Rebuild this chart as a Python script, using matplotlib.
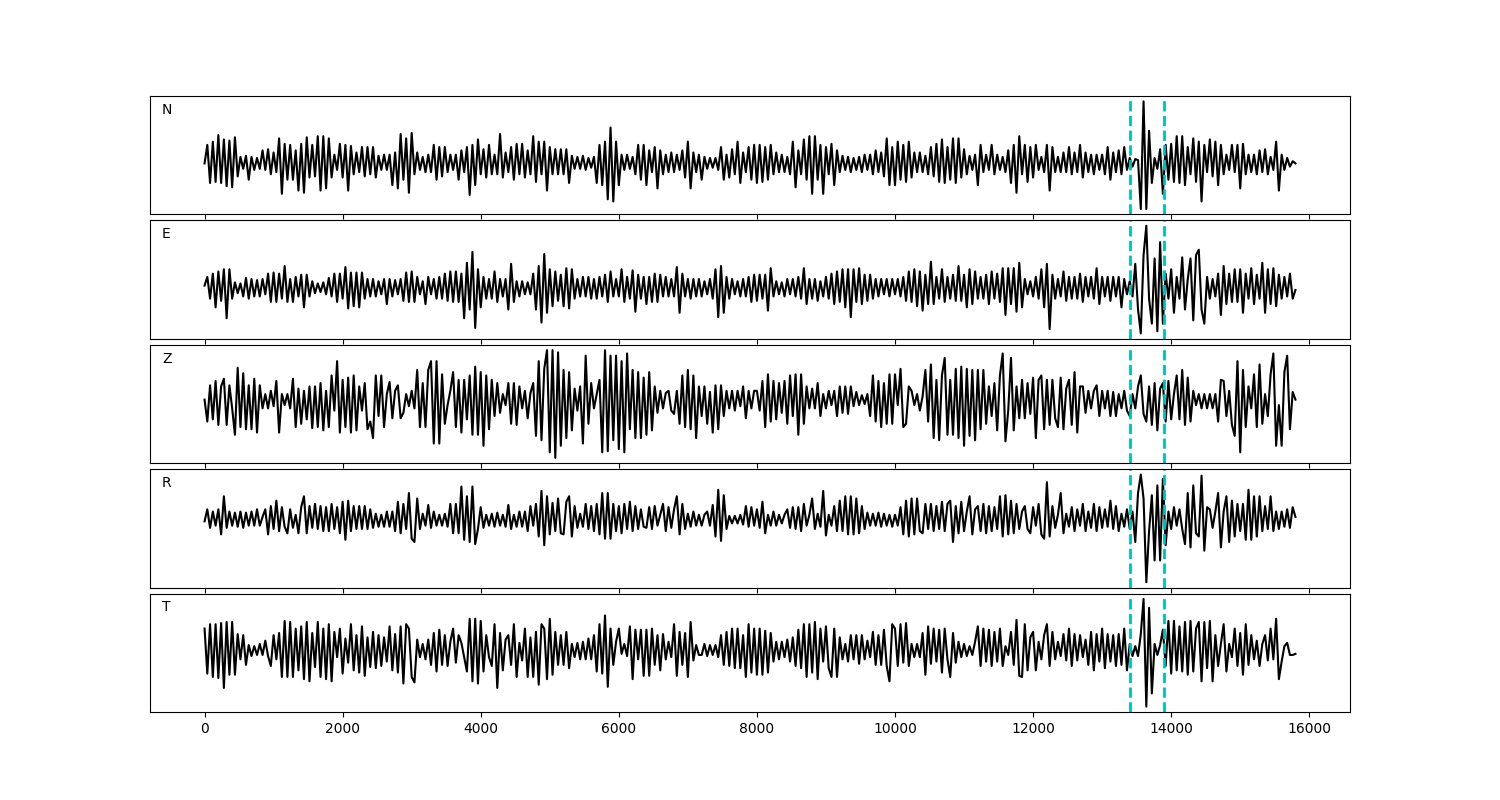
import numpy as np
import matplotlib
matplotlib.use('Agg')
import matplotlib.pyplot as plt

# amplitudes, one value every 40 samples (0..15800)
n_amp = [
    0,17,-18,20,-17,26,-18,22,-21,21, -22,24,-12,6,-5,7,-15,6,-6,5,
    -5,12,-6,13,-10,10,-8,23,-28,18, -15,17,-15,12,-25,18,-27,24,-13,17,
    -12,25,-25,25,-23,23,-13,8,-6,18, -13,17,-25,16,-10,10,-8,15,-12,15,
    -10,15,-13,7,-6,8,-6,8,-20,10, -23,27,-15,23,-27,28,-10,10,-6,6,
    -8,8,-8,17,-15,15,-12,15,-8,8, -6,8,-15,12,-8,15,-29,17,-20,22,
    -10,13,-13,17,-10,8,-10,27,-13,10, -8,15,-15,18,-10,18,-13,12,-10,25,
    -17,20,-10,20,-25,15,-10,13,-10,13, -10,13,-18,7,-5,6,-5,7,-6,5,
    -4,6,-18,17,-20,20,-33,33,-35,20, -20,8,-6,8,-5,6,-10,17,-15,17,
    -20,12,-8,15,-23,12,-10,8,-8,10, -8,8,-6,12,-13,20,-23,10,-8,8,
    -15,6,-5,5,-4,5,-6,15,-15,8, -13,13,-10,20,-18,10,-8,15,-15,17,
    -18,17,-17,15,-15,17,-10,10,-8,8, -8,6,-10,20,-22,12,-10,22,-15,25,
    -28,25,-15,17,-28,15,-10,18,-20,12, -8,7,-6,6,-8,5,-6,6,-8,8,
    -6,8,-10,12,-8,10,-12,23,-20,15, -20,20,-15,17,-17,20,-13,10,-8,10,
    -8,7,-10,15,-12,18,-17,22,-18,15, -15,23,-18,23,-13,13,-10,7,-6,8,
    -20,17,-8,8,-6,17,-10,8,-6,6, -8,12,-18,17,-27,25,-10,17,-17,15,
    -13,17,-6,6,-8,17,-25,15,-8,6, -8,10,-8,15,-10,10,-8,17,-13,10,
    -8,8,-10,8,-6,8,-10,15,-15,10, -8,12,-10,15,-6,5,-3,4,3,-42,
    57,-42,30,-18,5,-5,13,-28,17,-15, 18,-17,25,-18,25,-20,15,-10,23,-17,
    20,-35,17,-8,22,-12,20,-20,17,-10, 8,-6,17,-8,17,-23,18,-10,8,-8,
    8,-10,12,-8,13,-10,6,-6,20,-25, 8,-6,5,-3,2,0]

e_amp = [
    2,10,-10,13,-18,15,-12,17,-28,17, -10,5,-5,4,-8,9,-10,8,-8,7,
    -8,8,-6,13,-13,14,-13,13,-10,20, -13,8,-13,10,-8,12,-18,12,-8,6,
    -5,4,-4,5,-6,9,-8,13,-13,13, -10,19,-19,14,-17,14,-18,14,-10,8,
    -8,8,-8,6,-6,8,-15,8,-8,7, -6,8,-12,14,-13,15,-13,10,-6,6,
    -15,10,-6,8,-10,10,-10,13,-12,15, -13,15,-13,13,-28,23,-20,33,-37,17,
    -18,10,-10,8,-10,15,-13,8,-8,8, -20,22,-13,6,-8,6,-6,5,-6,13,
    -20,20,-32,31,-23,17,-17,15,-12,12, -17,18,-19,17,-10,8,-8,10,-8,10,
    -10,8,-10,10,-8,12,-13,15,-8,8, -8,17,-13,10,-10,16,-22,12,-10,10,
    -15,10,-13,13,-13,12,-8,10,-8,8, -8,19,-23,13,-8,8,-10,8,-8,8,
    -8,6,-6,8,-10,17,-27,20,-23,10, -10,8,-6,6,-8,8,-8,10,-13,12,
    -12,12,-10,12,-21,18,-8,6,-6,5, -8,8,-6,8,-8,10,-10,18,-15,8,
    -10,8,-12,6,-8,10,-10,13,-15,15, -13,17,-18,17,-27,17,-13,18,-15,12,
    -12,12,-10,8,-8,8,-6,8,-8,8, -6,8,-8,10,-12,15,-13,17,-17,15,
    -21,12,-15,24,-15,10,-10,17,-13,10, -10,12,-12,20,-12,12,-18,17,-15,15,
    -10,10,-10,12,-15,15,-10,13,-13,18, -25,18,-15,18,-22,23,-18,8,-6,6,
    -8,10,-10,17,-18,22,-38,12,-10,8, -8,15,-12,10,-10,10,-10,13,-13,10,
    -8,10,-10,18,-15,10,-8,10,-12,10, -8,10,-18,8,-6,6,-8,22,-20,-42,
    30,57,-10,-33,27,-40,42,-33,13,-10, 17,-23,10,-10,28,-20,8,27,-30,30,
    35,-20,-33,10,-10,8,-8,13,-25,20, -15,13,-13,17,-13,17,-23,13,-10,18,
    -15,12,-10,23,-23,17,-15,18,-17,12, -10,10,-8,13,-10,-2]

z_amp = [
    0,-20,13,-18,17,-23,12,19,-23,13, -8,-32,29,-25,24,-27,13,-27,19,-30,
    13,-8,5,-8,8,-6,17,-30,5,-5, 5,-8,19,-25,10,-22,8,-18,12,-26,
    12,-25,15,-28,8,-25,22,-10,35,-30, 18,-25,20,-30,22,-28,12,-10,15,-27,
    -20,-35,22,-15,22,-25,5,16,-17,8, 13,-17,-12,5,-6,8,-8,27,-25,15,
    -25,27,35,-40,35,-40,23,-22,-5,8, 25,-25,18,-30,18,-18,22,-32,30,-32,
    25,-42,22,-27,18,-15,15,-12,5,-5, 15,-22,15,-23,12,-8,8,-17,6,15,
    -33,35,-37,28,45,-48,45,-53,43,-42, 27,-35,25,-28,10,-10,12,-40,40,-22,
    15,-8,5,18,-48,45,-47,40,-37,40, -45,35,-48,42,-27,27,-35,25,-35,20,
    -32,25,-28,12,-12,8,-8,6,8,-10, -13,8,-22,22,-25,27,-27,22,-35,12,
    -15,12,-22,7,-30,13,-27,13,-15,8, -8,8,-10,8,-6,12,-17,8,-8,8,
    8,-10,17,-25,23,-20,17,-18,15,-12, 17,-22,22,-15,23,-32,23,-22,12,-8,
    10,-8,15,-15,5,-8,8,-5,8,-15, 12,-12,12,-13,12,-6,7,-5,4,-4,
    5,-15,22,-20,17,-25,15,-22,23,-22, 23,-5,28,-25,-22,12,8,-5,5,-10,
    3,27,-20,32,-35,18,-37,22,38,-32, 18,-32,28,-35,30,-42,28,-33,27,-37,
    27,-27,27,-22,12,-15,15,-28,22,42, -38,-10,38,-28,12,-17,18,-17,15,-13,
    20,-35,18,22,-27,18,-23,18,-17,-25, 20,-27,10,18,-23,25,-30,12,12,-12,
    8,-8,8,13,-15,8,-8,8,-15,7, -15,5,-8,8,-10,-15,5,-8,12,22,
    -13,-20,12,-23,15,-28,10,15,-20,17, -18,5,22,-18,27,-23,20,-20,8,-5,
    5,-8,5,-8,5,-8,5,-20,18,17, -15,8,-23,-33,35,-48,27,-25,12,-8,
    23,-25,32,-22,5,-15,23,42,-42,-5, -42,25,40,-27,7,0]

r_amp = [
    -1,10,-7,8,-5,10,-13,22,-7,8, -5,7,-6,8,-7,7,-5,8,-5,10,
    -5,3,10,-13,13,-8,18,-10,12,-6, -12,10,-7,5,-12,12,22,-12,13,-7,
    15,-8,13,-10,12,-10,15,-8,12,-12, 17,-18,18,-10,13,-8,13,-8,13,-8,
    10,-7,6,-6,5,-6,8,-6,8,-10, 17,-12,15,-8,25,-17,-20,20,-8,6,
    -5,14,-7,8,-5,5,-5,6,-6,15, -12,15,-12,31,-18,22,-20,31,-22,-8,
    12,-7,5,-5,6,-6,7,-5,5,-6, 14,-8,5,-6,8,-6,8,-10,13,-5,
    15,-15,27,-23,22,-13,16,-10,20,-12, -13,17,22,-15,13,-7,6,-6,15,-8,
    13,-10,15,-13,25,-17,25,-17,15,-10, 13,-12,15,-8,17,-10,13,-8,10,-6,
    -7,12,-8,13,-5,5,15,-10,12,-7, 10,22,-13,15,-8,6,-6,8,-5,5,
    -5,5,8,-5,14,-15,28,-19,23,-8, 4,-3,4,-3,5,-4,13,-6,12,-5,
    10,-7,17,-12,5,-5,8,-5,5,-3, 5,10,-7,12,-8,12,-10,15,-5,5,
    20,-8,6,-6,27,-14,5,-5,13,-10, 18,-10,22,-13,22,-13,20,-12,13,-8,
    7,-5,6,-5,7,-6,6,-5,5,-6, 5,-5,12,-13,18,-15,20,-13,20,-10,
    -12,15,-8,15,-10,13,-8,17,-10,15, 18,-20,13,-12,17,-10,8,22,-13,10,
    13,-10,15,-12,13,-10,12,-8,22,-15, 23,-13,18,-12,15,-8,8,13,-8,-12,
    12,-5,15,-13,-17,35,-15,13,-7,5, 25,-12,6,-6,12,-10,10,-5,15,-10,
    8,-7,15,-10,12,-7,10,-6,18,-8, 13,-10,6,-6,10,-8,8,-20,25,42,
    20,-57,-10,23,-37,32,-37,38,-23,8, -8,12,-5,10,-8,-22,25,-25,32,-12,
    -15,41,-28,12,10,-7,8,25,-25,8, 22,-20,18,-15,15,-10,15,-18,28,-18,
    22,-15,22,-10,13,-8,22,-10,8,-8, 8,-6,10,-7,12,3]

t_amp = [
    20,-21,24,-24,24,-25,25,-34,26,-22, 26,-22,15,-8,14,-13,5,-5,4,-4,
    6,-4,9,-5,-14,14,-8,16,-24,27, -24,26,-24,20,-18,22,-26,26,-28,16,
    -15,26,-24,20,-26,24,-28,17,-6,20, -21,11,-11,24,-18,14,-20,22,-23,12,
    -15,17,-16,14,-14,12,-10,22,-18,15, -20,22,-30,24,20,-24,-29,10,-6,6,
    -8,10,-13,16,-19,19,-13,14,-14,8, 20,-11,14,7,-6,-19,29,-28,29,-30,
    27,-19,14,-6,-14,24,-34,16,-18,10, 14,-13,24,-24,7,-9,20,-24,12,-24,
    17,-31,24,20,-26,29,-22,17,-13,14, -13,17,-16,6,-6,7,-8,8,-8,11,
    -8,14,-19,24,-21,32,-33,20,-13,8, 20,-3,6,-5,22,-26,19,-8,19,-23,
    19,-23,20,-13,14,-18,15,-8,8,-6, 24,-23,17,-13,16,-24,26,-9,5,-4,
    -4,6,-5,5,-4,5,-6,14,-13,17, -14,20,-16,20,-16,14,-24,24,-20,20,
    -22,20,-22,18,-20,16,-10,8,-8,8, -6,10,-10,12,-14,19,-16,24,-24,24,
    -20,26,-26,20,-10,22,-16,-24,20,-24, 12,-8,6,-10,14,-8,14,-12,14,-8,
    9,-6,17,-13,14,-13,19,-14,-28,24, 20,-14,24,-11,25,-14,6,-6,6,-6,
    16,-22,22,-12,20,-10,19,-20,20,-8, -24,16,-11,8,-6,6,-5,4,-4,8,
    22,-14,20,-10,19,-14,17,-10,20,-14, 4,-4,17,-13,28,-23,-24,24,-18,12,
    17,-18,8,-8,14,24,-14,17,-8,8, -5,15,-9,20,-14,15,-9,14,-6,10,
    -13,17,-18,15,-10,20,-16,15,-10,14, -14,15,-13,20,-18,6,-5,4,-5,15,
    47,-51,39,-39,6,-4,5,19,-14,27, -21,27,-18,22,-19,26,-22,27,-19,20,
    26,-28,26,-16,27,-28,14,-14,6,24, -19,6,-6,20,-14,16,-22,24,-13,14,
    -8,9,-14,6,14,-9,20,-8,29,-26, -10,4,7,-4,-4,-3]

labels = ['N', 'E', 'Z', 'R', 'T']
picks = [13400, 13900]
t_end = 15800

traces = [n_amp, e_amp, z_amp, r_amp, t_amp]

fig, axes = plt.subplots(5, 1, sharex=True, figsize=(15, 8))
fig.subplots_adjust(left=0.1, right=0.9, top=0.88, bottom=0.11, hspace=0.05)

for ax, tr, lab in zip(axes, traces, labels):
    t = np.linspace(0, t_end, len(tr))
    ax.plot(t, tr, 'k', lw=1.5)
    for p in picks:
        ax.axvline(p, color='c', ls='--', lw=2)
    ax.text(0.01, 0.85, lab, transform=ax.transAxes)
    ax.set_yticks([])

fig.savefig('out.png')
